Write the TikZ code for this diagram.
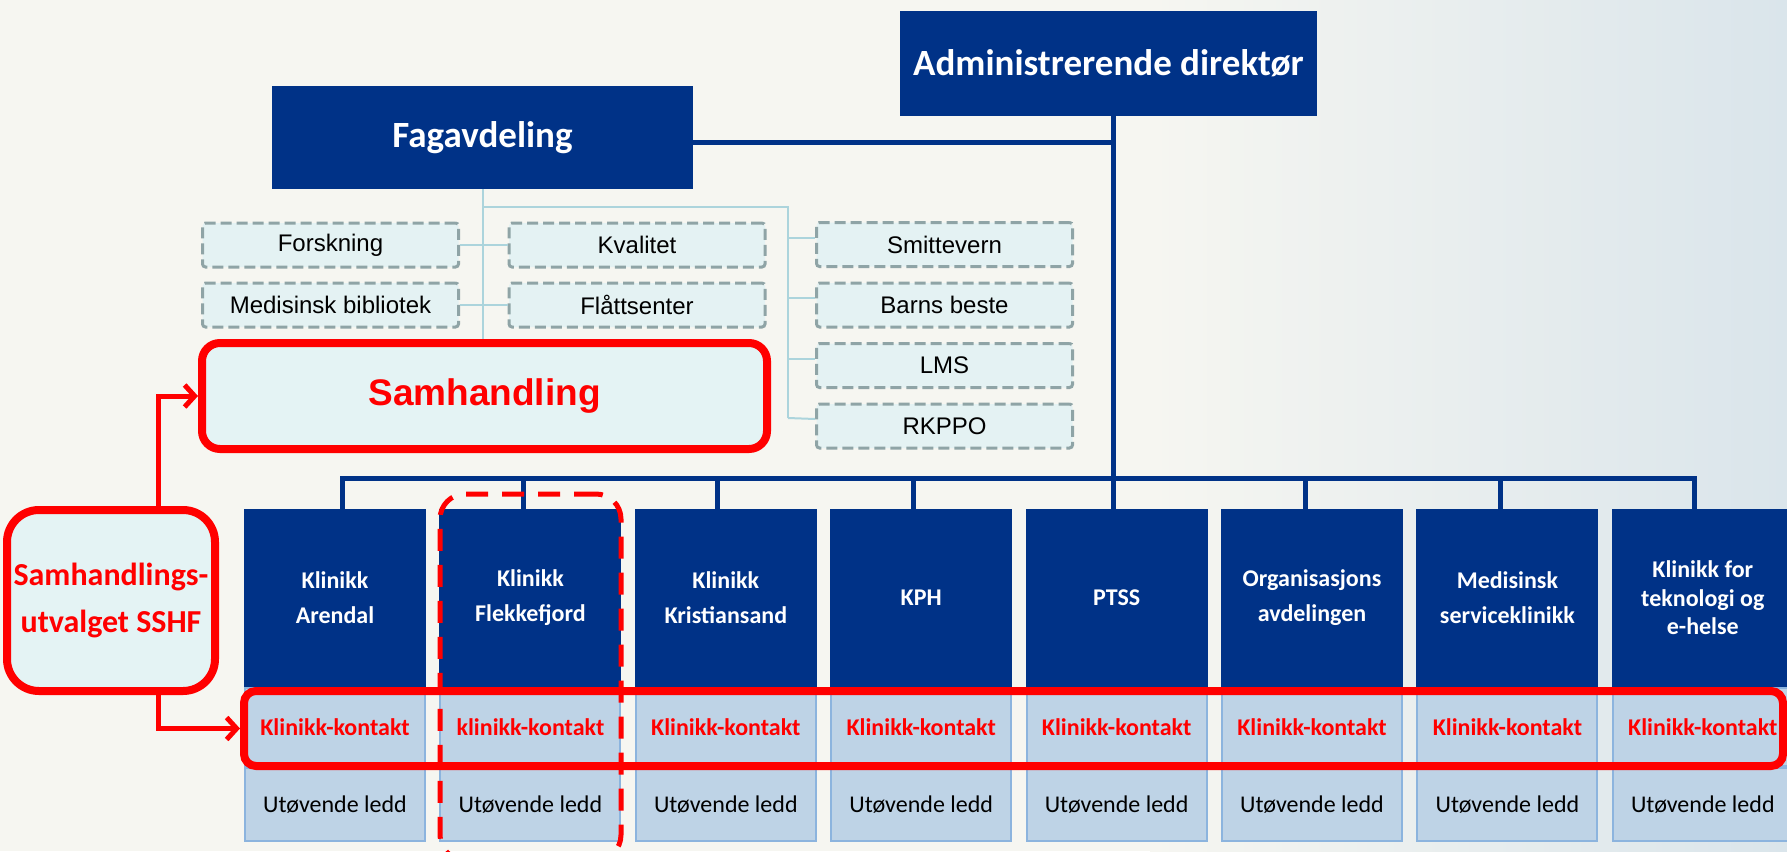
\documentclass[tikz,border=0pt]{standalone}
\usepackage{fontspec}
\setmainfont{Carlito}
\newfontfamily\arialf{Liberation Sans}
\usetikzlibrary{arrows.meta,calc}
\definecolor{nhblue}{RGB}{0,50,135}
\definecolor{bgc}{RGB}{246,246,241}
\definecolor{bgr}{RGB}{218,229,235}
\definecolor{dashgray}{RGB}{143,164,166}
\definecolor{dashfill}{RGB}{228,242,243}
\definecolor{thinc}{RGB}{172,212,220}
\definecolor{cellfill}{RGB}{190,211,230}
\definecolor{cellline}{RGB}{140,180,222}
\definecolor{samfill}{RGB}{228,243,244}
\definecolor{nred}{RGB}{255,0,0}
\begin{document}
\begin{tikzpicture}[x=1pt,y=-1pt,
  bluebox/.style={fill=nhblue, text=white, draw=none, inner sep=0,
     font=\bfseries\fontsize{37}{44}\selectfont},
  subbox/.style={draw=dashgray, fill=dashfill, line width=3, dash pattern=on 11pt off 5pt,
     rounded corners=3, minimum width=256, minimum height=44, inner sep=0,
     font=\arialf\fontsize{24}{28}\selectfont},
  klin/.style={fill=nhblue, text=white, draw=none, minimum width=182, minimum height=178,
     inner sep=0, align=center, font=\bfseries\fontsize{24}{35}\selectfont},
  cellk/.style={fill=cellfill, draw=cellline, line width=2, minimum width=180, minimum height=78,
     inner sep=0, text=nred, font=\bfseries\fontsize{24}{28}\selectfont},
  cellu/.style={fill=cellfill, draw=cellline, line width=2, minimum width=180, minimum height=73,
     inner sep=0, text=black, font=\fontsize{24}{28}\selectfont},
  busline/.style={draw=nhblue, line width=5},
  thinline/.style={draw=thinc, line width=2},
  redarrow/.style={draw=nred, line width=5, -{Straight Barb[length=10pt,width=22pt]}},
  redbox/.style={draw=nred, line width=8, fill=samfill, text=nred, inner sep=0}
]
\useasboundingbox (0,0) rectangle (1787,851);
\fill[bgc] (0,0) rectangle (1787,851);
\shade[left color=bgc, right color=bgr] (1150,0) rectangle (1787,851);

% top level
\node[bluebox, minimum width=417, minimum height=105] (admin) at (1108.5,63.5) {Administrerende direktør};
\node[bluebox, minimum width=421, minimum height=103] (fag) at (482.5,137.5) {Fagavdeling};

% staff units
\node[subbox] (forsk)  at (330.5,245) {Forskning};
\node[subbox] (medbib) at (330.5,305) {Medisinsk bibliotek};
\node[subbox] (kval)   at (637,245)   {Kvalitet};
\node[subbox] (flatt)  at (637,305)   {Flåttsenter};
\node[subbox] (smitte) at (944.5,244.5) {Smittevern};
\node[subbox] (barns)  at (944.5,305) {Barns beste};
\node[subbox] (lms)    at (944.5,365.5) {LMS};
\node[subbox] (rkppo)  at (944.5,426) {RKPPO};

% Samhandling
\node[redbox, rounded corners=18, minimum width=565, minimum height=106,
      font=\arialf\bfseries\fontsize{37}{44}\selectfont] (samh) at (484.5,396) {Samhandling};

% Klinikker
\foreach \i/\x/\t/\c in {
  1/335/{Klinikk\\Arendal}/{Klinikk-kontakt},
  2/530.4/{Klinikk\\Flekkefjord}/{klinikk-kontakt},
  3/725.8/{Klinikk\\Kristiansand}/{Klinikk-kontakt},
  4/921.2/{KPH}/{Klinikk-kontakt},
  5/1116.6/{PTSS}/{Klinikk-kontakt},
  6/1312/{Organisasjons\\avdelingen}/{Klinikk-kontakt},
  7/1507.4/{Medisinsk\\serviceklinikk}/{Klinikk-kontakt}}{
  \node[klin] (k\i) at (\x,598) {\t};
  \node[cellk] (c\i) at (\x,727) {\c};
  \node[cellu] (u\i) at (\x,804.5) {Utøvende ledd};
}
\node[klin, font=\bfseries\fontsize{24}{28.5}\selectfont] (k8) at (1702.8,598) {Klinikk for\\teknologi og\\e-helse};
\node[cellk] (c8) at (1702.8,727) {Klinikk-kontakt};
\node[cellu] (u8) at (1702.8,804.5) {Utøvende ledd};

% thin staff connectors
\coordinate (tA) at (482.5,207);
\coordinate (tB) at (788,207);
\coordinate (tC) at (788,418);
\draw[thinline] (fag.south) -- (fag.south |- samh.north);
\draw[thinline] (tA) -- (tB) -- (tC);
\draw[thinline] (forsk.east) -- (kval.west);
\draw[thinline] (medbib.east) -- (flatt.west);
\draw[thinline] ([yshift=7]smitte.west) -- ++(-27,0);
\draw[thinline] ([yshift=7]barns.west) -- ++(-27,0);
\draw[thinline] ([yshift=7]lms.west) -- ++(-27,0);
\draw[thinline] ([yshift=7]rkppo.west) -- (tC);

% main blue connectors
\coordinate (trunk) at ([xshift=4.5]admin.south);
\coordinate (busL) at ($(k1.north)+(7,-30)$);
\draw[busline] (trunk) -- (trunk |- busL);
\draw[busline] ([yshift=-4.5]fag.east) -- ([yshift=-4.5]fag.east -| trunk);
\draw[busline] ([xshift=7]k1.north) -- (busL) -| ([xshift=-8]k8.north);
\foreach \i/\dx in {2/-7,3/-8,4/-8,5/-3,6/-7,7/-7}{
  \draw[busline] ([xshift=\dx]k\i.north) -- ++(0,-30);
}

% Samhandlingsutvalget
\node[redbox, rounded corners=32, minimum width=208, minimum height=181, align=center,
      font=\bfseries\fontsize{32}{47}\selectfont] (utv) at (111,600.5) {Samhandlings-\\utvalget SSHF};

% red frames
\node[draw=nred, line width=8, rounded corners=12, minimum width=1539, minimum height=75, inner sep=0]
  (kontakt) at (1013.5,728.5) {};
\node[draw=nred, line width=5, dash pattern=on 22pt off 14pt, rounded corners=25,
      minimum width=181, minimum height=366, inner sep=0] (flek) at (530.5,677) {};

\coordinate (ua) at ($(utv.north)+(47,0)$);
\coordinate (ub) at ($(utv.south)+(47,0)$);
\draw[redarrow] (ua) |- (samh.west);
\draw[redarrow] (ub) |- (kontakt.west);
\end{tikzpicture}
\end{document}
